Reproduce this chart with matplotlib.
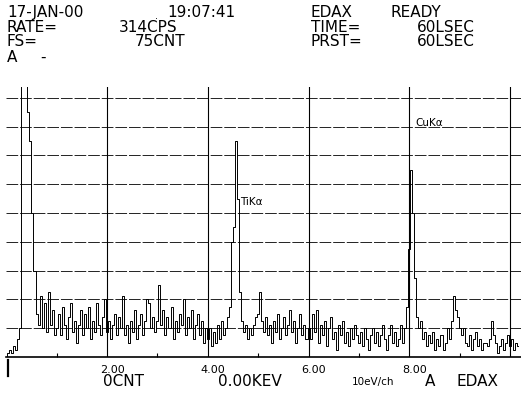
"""
EDAX spectrum printout, 17-JAN-00: Ti and Cu K-alpha lines
"""
import numpy as np
import matplotlib.pyplot as plt

# energy axis, one sample every 0.04 keV
energy_start = 0.0
energy_step = 0.04

# counts, one row per keV
counts = [
    0, 1, 2, 1, 3, 2, 5, 8, 120, 120, 120, 68, 60, 40, 24, 12, 9, 17, 8, 15, 7, 18, 9, 13, 6,
    8, 12, 6, 14, 9, 5, 11, 15, 7, 10, 4, 9, 13, 6, 12, 8, 14, 5, 10, 7, 15, 9, 6, 11, 16,
    7, 10, 5, 9, 12, 6, 11, 8, 17, 6, 9, 4, 10, 7, 13, 5, 9, 12, 6, 10, 16, 15, 8, 11, 7,
    10, 20, 9, 13, 6, 11, 8, 14, 5, 10, 7, 12, 9, 16, 6, 11, 8, 13, 5, 9, 12, 6, 10, 4, 8,
    5, 8, 3, 7, 4, 9, 5, 10, 6, 8, 11, 14, 32, 36, 60, 44, 18, 10, 7, 9, 5, 8, 6, 9, 11,
    12, 18, 10, 7, 11, 6, 9, 4, 10, 7, 12, 5, 8, 11, 6, 9, 13, 7, 10, 4, 8, 12, 6, 9, 5,
    8, 5, 12, 7, 13, 4, 9, 6, 10, 3, 8, 11, 5, 7, 2, 9, 6, 10, 4, 7, 3, 8, 5, 9, 6,
    4, 7, 3, 8, 5, 2, 6, 8, 4, 7, 3, 6, 9, 5, 2, 6, 9, 4, 7, 3, 5, 9, 4, 8, 14,
    30, 52, 40, 22, 11, 8, 10, 5, 7, 3, 6, 4, 7, 2, 5, 3, 6, 2, 4, 8, 5, 10, 17, 13, 11,
    8, 6, 8, 4, 3, 6, 2, 5, 7, 3, 5, 2, 4, 4, 3, 5, 10, 6, 4, 1, 3, 5, 2, 4, 6,
    3, 5, 2, 4, 3,
]
energy = energy_start + energy_step * np.arange(len(counts))

full_scale = 75
grid_keV = [2, 4, 6, 8, 10]
grid_counts = [8, 16, 24, 32, 40, 48, 56, 64, 72]
tick_labels = ['2.00', '4.00', '6.00', '8.00']

# peak labels: text, energy, counts
peak_labels = [('TiK\u03b1', 4.64, 43), ('CuK\u03b1', 8.13, 65)]

W, H = 521, 393
fig = plt.figure(figsize=(W / 100, H / 100), dpi=100)

# plot box in pixels: 0 keV at x=6.3, 10 keV at x=510, baseline y=357, top y=87
px_per_keV = (510 - 6.3) / 10
x0, y_base, y_top = 6.3, 357, 87
ax = fig.add_axes([x0 / W, (H - y_base) / H, (W - x0) / W, (y_base - y_top) / H])
ax.set_xlim(0, (W - x0) / px_per_keV)
ax.set_ylim(0, full_scale)

for g in grid_counts:
    ax.axhline(g, color='#222222', lw=0.7, ls=(0, (12, 2)), zorder=1)
for g in grid_keV:
    ax.axvline(g, color='black', lw=0.8, zorder=1)

ax.plot(energy, counts, color='black', lw=0.7, drawstyle='steps-mid', zorder=3)

for s in ['top', 'right', 'left']:
    ax.spines[s].set_visible(False)
ax.spines['bottom'].set_linewidth(1.2)
ax.set_yticks([])
ax.set_xticks([])
ax.set_xticks([1, 3, 5, 7, 9], minor=True)
ax.tick_params(axis='x', which='minor', direction='in', length=3, width=0.8)

# energy labels under the axis
for g, lab in zip(grid_keV, tick_labels):
    ax.text(g + 0.1, -0.048, lab, transform=ax.get_xaxis_transform(),
            ha='center', va='center', fontsize=8, family='DejaVu Sans')

# start marker at 0 keV
ax.plot([0.03, 0.03], [-0.8, -5.3], color='black', lw=1.6, clip_on=False)

for lab, e, c in peak_labels:
    ax.text(e, c, lab, fontsize=7.5, va='center', ha='left', family='DejaVu Sans')

# header and footer text, placed in pixels like the printer did
font = dict(fontsize=11, family='DejaVu Sans', va='center', ha='left')
header = [
    ('17-JAN-00', 7, 12.5), ('19:07:41', 167, 12.5), ('EDAX', 311, 12.5), ('READY', 391, 12.5),
    ('RATE=', 7, 27), ('314CPS', 119, 27), ('TIME=', 311, 27), ('60LSEC', 417, 27),
    ('FS=', 7, 42), ('75CNT', 135, 42), ('PRST=', 311, 42), ('60LSEC', 417, 42),
    ('A', 7, 57), ('-', 40, 57),
    ('0CNT', 103, 381), ('0.00KEV', 218, 381), ('A', 425, 381), ('EDAX', 457, 381),
]
for txt, x, y in header:
    fig.text(x / W, 1 - y / H, txt, **font)
fig.text(155 / W, 1 - 16 / H, '.', fontsize=7, family='DejaVu Sans', va='center', ha='left')
fig.text(352 / W, 1 - 382 / H, '10eV/ch', fontsize=7.5, family='DejaVu Sans', va='center', ha='left')

plt.savefig('out.png', dpi=100)
